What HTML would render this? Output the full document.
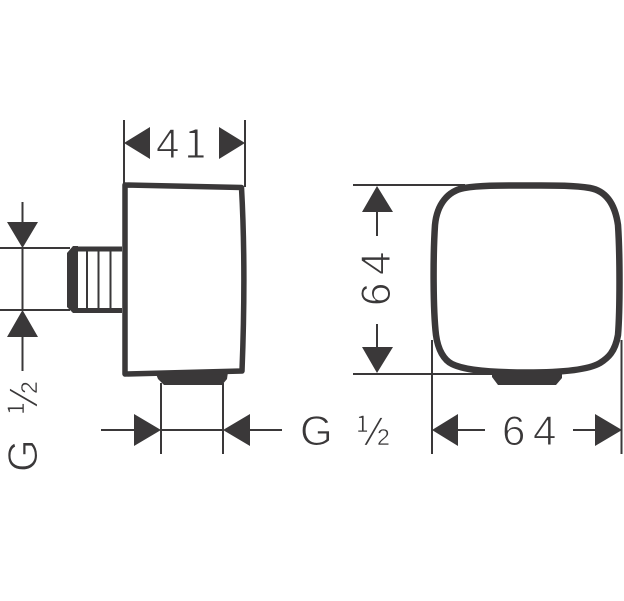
<!DOCTYPE html>
<html><head><meta charset="utf-8"><style>
html,body{margin:0;padding:0;background:#fff;width:624px;height:601px;overflow:hidden}
svg{display:block}
text{font-family:"Liberation Sans",sans-serif;fill:#3a3839;stroke:#fff;stroke-width:1px}
.n{font-family:"Noto Sans CJK JP","Liberation Sans",sans-serif}
</style></head><body>
<svg width="624" height="601" viewBox="0 0 624 601" xmlns="http://www.w3.org/2000/svg">
<g fill="none" stroke="#3a3839" stroke-width="2">
<path d="M124 120V185M245 120V187"/>
<path d="M0 248H70M0 310H70"/>
<path d="M22.500 202V222M22.500 248V310M22.500 337V371"/>
<path d="M161 383V454M223 383V454M101 430H134M161 430H223M250 430H282"/>
<path d="M353 185H465M353 374H495"/>
<path d="M377 212V236M377 324V347"/>
<path d="M432 340V454M621.500 340V454M458 430H485M573 430H595"/>
<path d="M87 251V308M98.500 251V308M110.500 251V308"/>
</g>
<g fill="#3a3839">
<path d="M124 143L150 127V159ZM245 143L219 127V159Z"/>
<path d="M22.500 248L7 222H38ZM22.500 310L7 337H38Z"/>
<path d="M161 430L134 414V446ZM223 430L250 414V446Z"/>
<path d="M377 186L362 212H393ZM377 373L362 347H393Z"/>
<path d="M432 430L458 414V446ZM622 430L595 414V446Z"/>
<path d="M156 374L228 372L227 379L222 385H164L158 379Z"/>
<path d="M492 372H562V378L556 385H498L492 377Z"/>
<path d="M67 253L73 246H78V313H73L67 307Z"/>
</g>
<g fill="none" stroke="#3a3839" stroke-linejoin="round">
<path stroke-width="5.500" d="M125 185L241.500 187.500Q246 270 242 371L125 374Z"/>
<path stroke-width="5" d="M122 249H75M122 310.500H75"/>
<path stroke-width="6.500" d="M527 185.500C550 185.500 572 185 590 188C606 191 615 204 618 225C620 255 620 310 618 335C615 352 608 358 600 363C588 370 560 372.500 527 372.500C495 372.500 466 371 452 364C444 360 438 350 436 335C433 310 433 255 435 225C437 204 448 191 464 188C482 185 505 185.500 527 185.500Z"/>
</g>
<text x="156" y="158" font-size="42">4</text>
<text class="n" x="184" y="158" font-size="41">1</text>
<text x="502" y="445" font-size="42">6</text>
<text x="533" y="445" font-size="42">4</text>
<text x="300" y="445" font-size="42">G</text>
<g transform="translate(356,445)" style="font-size:23px">
<text class="n" x="0" y="-13" style="stroke-width:.4px">1</text>
<text transform="translate(8,0) skewX(-17)" font-size="38" style="stroke-width:.9px">/</text>
<text x="21" y="0" style="stroke-width:.4px">2</text>
</g>
<text transform="translate(390,306) rotate(-90)" font-size="42">6</text>
<text transform="translate(390,275) rotate(-90)" font-size="42">4</text>
<text transform="translate(37,472) rotate(-90)" font-size="42">G</text>
<g transform="translate(37,415) rotate(-90)" style="font-size:23px">
<text class="n" x="0" y="-13" style="stroke-width:.4px">1</text>
<text transform="translate(8,0) skewX(-17)" font-size="38" style="stroke-width:.9px">/</text>
<text x="21" y="0" style="stroke-width:.4px">2</text>
</g>
</svg>
</body></html>
